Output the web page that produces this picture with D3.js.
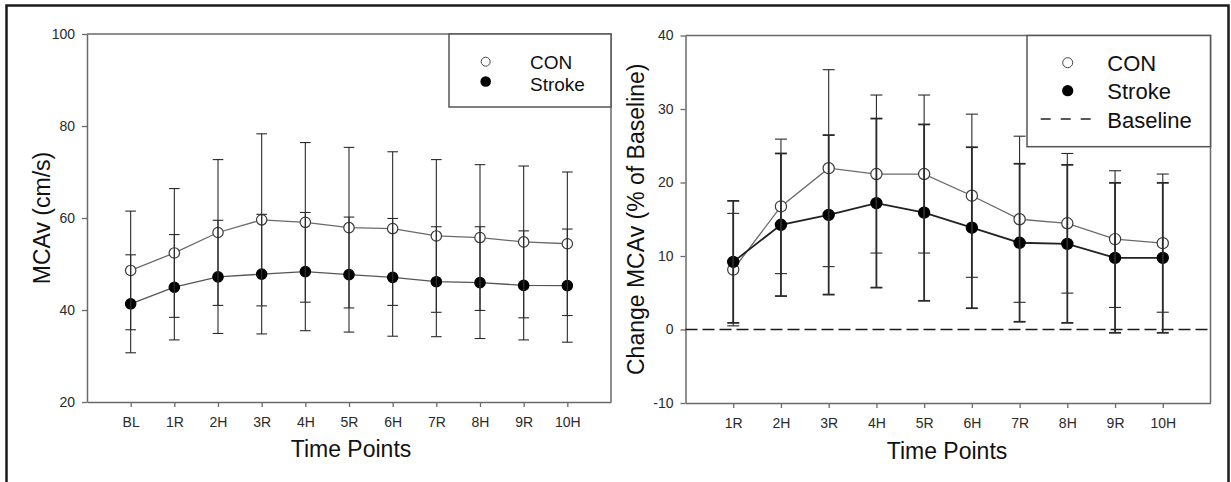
<!DOCTYPE html>
<html>
<head>
<meta charset="utf-8">
<script src="https://cdn.jsdelivr.net/npm/d3@7"></script>
<style>
  body { margin: 0; background: #fff; }
  text { font-family: "Liberation Sans", Arial, sans-serif; }
</style>
</head>
<body>
<div id="chart"></div>
<script>
var svgWidth = 1231;
var svgHeight = 482;

// left panel: absolute MCAv
var leftLabels = ["BL", "1R", "2H", "3R", "4H", "5R", "6H", "7R", "8H", "9R", "10H"];
var leftConMean = [48.6, 52.4, 56.85, 59.6, 59.05, 57.9, 57.7, 56.1, 55.75, 54.8, 54.4];
var leftConSD = [12.9, 14.0, 15.85, 18.7, 17.35, 17.45, 16.7, 16.6, 15.85, 16.5, 15.6];
var leftStrokeMean = [41.35, 44.95, 47.2, 47.8, 48.35, 47.7, 47.1, 46.15, 45.95, 45.35, 45.3];
var leftStrokeSD = [10.65, 11.45, 12.3, 13.0, 12.85, 12.5, 12.8, 11.95, 12.15, 11.85, 12.3];
var leftYTicks = [20, 40, 60, 80, 100];

// right panel: change from baseline
var rightLabels = ["1R", "2H", "3R", "4H", "5R", "6H", "7R", "8H", "9R", "10H"];
var rightConMean = [8.15, 16.75, 21.95, 21.15, 21.15, 18.2, 15.0, 14.45, 12.3, 11.75];
var rightConSD = [7.65, 9.15, 13.4, 10.75, 10.75, 11.1, 11.3, 9.5, 9.3, 9.4];
var rightStrokeMean = [9.2, 14.25, 15.6, 17.2, 15.9, 13.85, 11.8, 11.65, 9.75, 9.75];
var rightStrokeSD = [8.3, 9.7, 10.85, 11.5, 12.0, 10.95, 10.75, 10.75, 10.2, 10.2];
var rightYTicks = [-10, 0, 10, 20, 30, 40];

var svg = d3.select("#chart")
  .append("svg")
  .attr("width", svgWidth)
  .attr("height", svgHeight);

// outer frame
svg.append("rect")
  .attr("x", 6.5)
  .attr("y", 5.5)
  .attr("width", 1222)
  .attr("height", 490)
  .attr("fill", "none")
  .attr("stroke", "#1a1a1a")
  .attr("stroke-width", 2.5);

function drawPanel(opts) {
  var n = opts.labels.length;
  var x = d3.scaleLinear()
    .domain([-1, n])
    .range([opts.left, opts.right]);
  var y = d3.scaleLinear()
    .domain(opts.yDomain)
    .range([opts.bottom, opts.top]);

  var g = svg.append("g");

  // axes
  var bottomAxis = d3.axisBottom(x)
    .tickValues(d3.range(n))
    .tickFormat(i => opts.labels[i])
    .tickSize(5)
    .tickSizeOuter(0)
    .tickPadding(10);
  var leftAxis = d3.axisLeft(y)
    .tickValues(opts.yTicks)
    .tickFormat(d => String(d))
    .tickSize(5)
    .tickSizeOuter(0)
    .tickPadding(7);

  var xAxis = g.append("g")
    .attr("transform", `translate(0, ${opts.bottom})`)
    .call(bottomAxis);
  var yAxis = g.append("g")
    .attr("transform", `translate(${opts.left}, 0)`)
    .call(leftAxis);

  [xAxis, yAxis].forEach(function(a) {
    a.select(".domain").attr("stroke", "#6a6a6a").attr("stroke-width", 1.5);
    a.selectAll(".tick line").attr("stroke", "#6a6a6a").attr("stroke-width", 1.3);
    a.selectAll(".tick text")
      .attr("fill", "#2a2a2a")
      .attr("font-size", 14)
      .attr("font-family", "Liberation Sans, Arial, sans-serif");
  });

  // frame top and right
  g.append("path")
    .attr("d", `M${opts.left},${opts.top}H${opts.right}V${opts.bottom}`)
    .attr("fill", "none")
    .attr("stroke", "#6a6a6a")
    .attr("stroke-width", 1.5);

  // baseline
  if (opts.baseline) {
    g.append("line")
      .attr("x1", opts.left)
      .attr("x2", opts.right)
      .attr("y1", y(0))
      .attr("y2", y(0))
      .attr("stroke", "#1a1a1a")
      .attr("stroke-width", 1.7)
      .attr("stroke-dasharray", "12,5");
  }

  var series = [
    { mean: opts.conMean, sd: opts.conSD, fill: "#fff", stroke: "#3a3a3a", line: "#6a6a6a", lw: 1.3, ew: opts.conErrW },
    { mean: opts.strokeMean, sd: opts.strokeSD, fill: "#000", stroke: "#000", line: opts.strokeLine, lw: opts.strokeLW, ew: opts.strokeErrW }
  ];

  var lineGen = d3.line()
    .x((d, i) => x(i))
    .y(d => y(d));

  series.forEach(function(s) {
    g.append("path")
      .datum(s.mean)
      .attr("d", lineGen)
      .attr("fill", "none")
      .attr("stroke", s.line)
      .attr("stroke-width", s.lw);
  });

  series.forEach(function(s) {
    g.selectAll(null)
      .data(s.mean)
      .enter()
      .append("circle")
      .attr("cx", (d, i) => x(i))
      .attr("cy", d => y(d))
      .attr("r", opts.r)
      .attr("fill", s.fill)
      .attr("stroke", s.stroke)
      .attr("stroke-width", 1.2);
  });

  // error bars
  series.forEach(function(s) {
    var eb = g.selectAll(null)
      .data(s.mean)
      .enter()
      .append("g")
      .attr("stroke", "#2a2a2a")
      .attr("stroke-width", s.ew);
    eb.append("line")
      .attr("x1", (d, i) => x(i))
      .attr("x2", (d, i) => x(i))
      .attr("y1", (d, i) => y(d + s.sd[i]))
      .attr("y2", (d, i) => y(d - s.sd[i]));
    eb.append("line")
      .attr("x1", (d, i) => x(i) - opts.cap)
      .attr("x2", (d, i) => x(i) + opts.cap)
      .attr("y1", (d, i) => y(d + s.sd[i]))
      .attr("y2", (d, i) => y(d + s.sd[i]));
    eb.append("line")
      .attr("x1", (d, i) => x(i) - opts.cap)
      .attr("x2", (d, i) => x(i) + opts.cap)
      .attr("y1", (d, i) => y(d - s.sd[i]))
      .attr("y2", (d, i) => y(d - s.sd[i]));
  });

  // axis titles
  g.append("text")
    .attr("x", (opts.left + opts.right) / 2 + opts.xTitleShift)
    .attr("y", opts.xTitleY)
    .attr("text-anchor", "middle")
    .attr("font-size", 23)
    .attr("fill", "#111")
    .text("Time Points");

  g.append("text")
    .attr("transform", `translate(${opts.yTitleX}, ${(opts.top + opts.bottom) / 2}) rotate(-90)`)
    .attr("text-anchor", "middle")
    .attr("dominant-baseline", "central")
    .attr("font-size", 23)
    .attr("fill", "#111")
    .text(opts.yTitle);

  return g;
}

drawPanel({
  labels: leftLabels,
  conMean: leftConMean, conSD: leftConSD,
  strokeMean: leftStrokeMean, strokeSD: leftStrokeSD,
  yDomain: [20, 100], yTicks: leftYTicks,
  left: 87, right: 611, top: 34, bottom: 402,
  r: 5.2, cap: 5.3, conErrW: 1.1, strokeErrW: 1.1,
  strokeLine: "#555", strokeLW: 1.3,
  baseline: false,
  xTitleShift: 2, xTitleY: 457,
  yTitleX: 42, yTitle: "MCAv (cm/s)"
});

drawPanel({
  labels: rightLabels,
  conMean: rightConMean, conSD: rightConSD,
  strokeMean: rightStrokeMean, strokeSD: rightStrokeSD,
  yDomain: [-10, 40], yTicks: rightYTicks,
  left: 685.5, right: 1210.5, top: 35.5, bottom: 403,
  r: 5.6, cap: 6, conErrW: 1.1, strokeErrW: 1.8,
  strokeLine: "#222", strokeLW: 1.8,
  baseline: true,
  xTitleShift: -1, xTitleY: 459,
  yTitleX: 636, yTitle: "Change MCAv (% of Baseline)"
});

// legends
function legendBox(x0, x1, y0, y1) {
  svg.append("rect")
    .attr("x", x0)
    .attr("y", y0)
    .attr("width", x1 - x0)
    .attr("height", y1 - y0)
    .attr("fill", "#fff")
    .attr("stroke", "#555")
    .attr("stroke-width", 1.5);
}

legendBox(449, 611, 34, 107);
svg.append("circle").attr("cx", 485.7).attr("cy", 61.7).attr("r", 4.5)
  .attr("fill", "#fff").attr("stroke", "#444").attr("stroke-width", 1);
svg.append("circle").attr("cx", 485.7).attr("cy", 81.5).attr("r", 5.3)
  .attr("fill", "#000");
svg.append("text").attr("x", 530).attr("y", 68.5).attr("font-size", 19).attr("fill", "#111").text("CON");
svg.append("text").attr("x", 530).attr("y", 90.5).attr("font-size", 19).attr("fill", "#111").text("Stroke");

legendBox(1027, 1210.5, 35.5, 146.7);
svg.append("circle").attr("cx", 1067.7).attr("cy", 62.7).attr("r", 5)
  .attr("fill", "#fff").attr("stroke", "#444").attr("stroke-width", 1);
svg.append("circle").attr("cx", 1067.7).attr("cy", 90.7).attr("r", 5.6)
  .attr("fill", "#000");
svg.append("line").attr("x1", 1040.7).attr("x2", 1090.7).attr("y1", 119).attr("y2", 119)
  .attr("stroke", "#222").attr("stroke-width", 1.5).attr("stroke-dasharray", "10,10");
svg.append("text").attr("x", 1107.3).attr("y", 71).attr("font-size", 22).attr("fill", "#111").text("CON");
svg.append("text").attr("x", 1107.3).attr("y", 99.3).attr("font-size", 22).attr("fill", "#111").text("Stroke");
svg.append("text").attr("x", 1107.3).attr("y", 127.8).attr("font-size", 22).attr("fill", "#111").text("Baseline");
</script>
</body>
</html>
